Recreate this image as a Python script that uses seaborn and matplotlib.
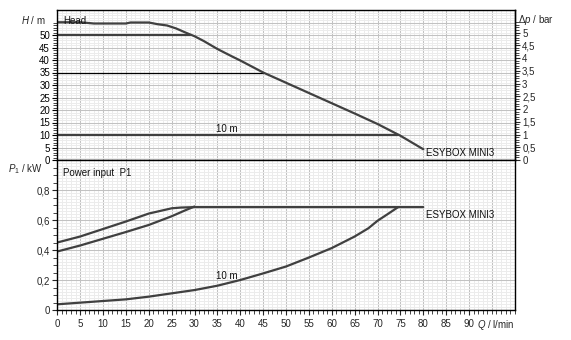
import numpy as np
import pandas as pd
import matplotlib
matplotlib.use("Agg")
import matplotlib.pyplot as plt
import matplotlib.transforms as mtransforms
from matplotlib.ticker import MultipleLocator, FixedLocator, FuncFormatter
import seaborn as sns

sns.set_style("white")
plt.rcParams['font.family'] = ['Liberation Sans', 'DejaVu Sans']
plt.rcParams['mathtext.fontset'] = 'custom'
plt.rcParams['mathtext.it'] = 'Liberation Sans:italic'
plt.rcParams['mathtext.rm'] = 'Liberation Sans'

# ---------------- data ----------------
# Head curve (max speed)
q_head = [0, 5, 8, 10, 15, 16, 20, 22, 24, 26, 28, 30, 32, 35, 38, 40, 45, 50, 55, 60, 65, 70, 75, 80]
h_head = [55.1, 55.1, 54.6, 54.6, 54.6, 55.0, 55.0, 54.3, 53.8, 52.6, 51.0, 49.5, 47.6, 44.4, 41.6, 39.8,
          35.0, 30.9, 26.8, 22.7, 18.6, 14.4, 9.7, 4.3]
# constant-pressure set lines (m)
q_set50 = [0, 29]
h_set50 = [50, 50]
q_set35 = [0, 45]
h_set35 = [35, 35]
q_set10 = [0, 74.5]
h_set10 = [10, 10]

# Power input P1 (kW)
q_pmax = [0, 5, 10, 15, 20, 25, 27, 30, 40, 50, 60, 70, 80]
p_pmax = [0.45, 0.49, 0.54, 0.59, 0.643, 0.678, 0.683, 0.686, 0.686, 0.686, 0.686, 0.686, 0.686]
q_p50 = [0, 5, 10, 15, 20, 25, 28, 30]
p_p50 = [0.39, 0.43, 0.475, 0.52, 0.567, 0.625, 0.665, 0.69]
q_p10 = [0, 5, 10, 15, 20, 25, 30, 35, 40, 45, 50, 55, 60, 65, 68, 70, 72, 74.5]
p_p10 = [0.038, 0.049, 0.06, 0.071, 0.089, 0.111, 0.133, 0.162, 0.2, 0.244, 0.29, 0.35, 0.413, 0.49,
         0.545, 0.595, 0.635, 0.686]

x_ticks = [0, 5, 10, 15, 20, 25, 30, 35, 40, 45, 50, 55, 60, 65, 70, 75, 80, 85, 90]
h_ticks = [0, 5, 10, 15, 20, 25, 30, 35, 40, 45, 50]
p_ticks = [0, 0.2, 0.4, 0.6, 0.8]
bar_ticks = [0, 0.5, 1, 1.5, 2, 2.5, 3, 3.5, 4, 4.5, 5]
M_PER_BAR = 10.197

# ---------------- figure ----------------
W, H = 571, 340
fig = plt.figure(figsize=(W / 100, H / 100), dpi=100)
fig.patch.set_facecolor("white")
x0, x1 = 57.3, 514.8
ax_top = fig.add_axes([x0 / W, (H - 160) / H, (x1 - x0) / W, 150 / H])
ax_bot = fig.add_axes([x0 / W, (H - 310) / H, (x1 - x0) / W, 150 / H])

curve_col = "#404040"
txt_col = "#111111"
major_grid = "#c2c2c2"
minor_grid = "#ececec"
fs = 7

for ax in (ax_top, ax_bot):
    ax.set_xlim(0, 100)
    ax.grid(False, which="both")
    for s in ax.spines.values():
        s.set_color("black")
        s.set_linewidth(1.0)
    ax.set_facecolor("white")
    ax.set_xlabel("")
    ax.set_ylabel("")
    for qv in range(0, 101):
        ax.axvline(qv, color=major_grid if qv % 5 == 0 else minor_grid,
                   lw=0.75 if qv % 5 == 0 else 0.7, zorder=0)

# ---- top panel ----
ax_top.set_ylim(0, 60)
ax_top.yaxis.set_major_locator(FixedLocator(h_ticks))
ax_top.yaxis.set_minor_locator(FixedLocator(list(range(0, 56))))
ax_top.yaxis.set_major_formatter(FuncFormatter(lambda v, p: f"{v:g}"))
ax_top.tick_params(axis="x", which="both", bottom=False, labelbottom=False)
ax_top.tick_params(axis="y", which="major", direction="out", length=3.5, width=0.8, pad=1.8,
                   labelsize=fs, left=True, colors="black")
ax_top.tick_params(axis="y", which="minor", direction="out", length=3.0, width=0.6, left=True)
for hv in range(0, 61):
    ax_top.axhline(hv, color=major_grid if hv % 5 == 0 else minor_grid,
                   lw=0.75 if hv % 5 == 0 else 0.7, zorder=0)

sns.lineplot(x=q_set35, y=h_set35, ax=ax_top, color="black", lw=0.9, estimator=None, sort=False)
sns.lineplot(x=q_set50, y=h_set50, ax=ax_top, color=curve_col, lw=1.6, estimator=None, sort=False)
sns.lineplot(x=q_set10, y=h_set10, ax=ax_top, color=curve_col, lw=1.6, estimator=None, sort=False)
sns.lineplot(x=q_head, y=h_head, ax=ax_top, color=curve_col, lw=1.6, estimator=None, sort=False)

ax_top.text(1.2, 55.6, "Head", fontsize=fs, va="center", ha="left", color=txt_col)
ax_top.text(37.1, 12.6, "10 m", fontsize=fs, va="center", ha="center", color=txt_col)
ax_top.text(80.6, 2.8, "ESYBOX MINI3", fontsize=fs, va="center", ha="left", color=txt_col)

trans_t = mtransforms.blended_transform_factory(ax_top.transAxes, ax_top.transData)
ax_top.text(-0.026, 56, r"$H$ / m", transform=trans_t, fontsize=fs, ha="right", va="center")
ax_top.text(1.008, 56, r"$\Delta p$ / bar", transform=trans_t, fontsize=fs, ha="left", va="center")

sec = ax_top.secondary_yaxis("right", functions=(lambda h: h / M_PER_BAR, lambda b: b * M_PER_BAR))
sec.yaxis.set_major_locator(FixedLocator(bar_ticks))
sec.yaxis.set_minor_locator(FixedLocator([i / 10 for i in range(0, 55)]))
sec.yaxis.set_major_formatter(FuncFormatter(lambda v, p: f"{v:g}".replace(".", ",")))
sec.tick_params(axis="y", which="major", direction="out", length=3.5, width=0.8, pad=1.8, labelsize=fs)
sec.tick_params(axis="y", which="minor", direction="out", length=3.0, width=0.6)
sec.spines["right"].set_linewidth(1.0)

# ---- bottom panel ----
ax_bot.set_ylim(0, 1.0)
ax_bot.yaxis.set_major_locator(FixedLocator(p_ticks))
ax_bot.yaxis.set_minor_locator(FixedLocator([i * 0.05 for i in range(0, 20)]))
ax_bot.yaxis.set_major_formatter(FuncFormatter(lambda v, p: f"{v:g}".replace(".", ",")))
ax_bot.xaxis.set_major_locator(FixedLocator(x_ticks))
ax_bot.xaxis.set_major_formatter(FuncFormatter(lambda v, p: f"{v:g}"))
ax_bot.xaxis.set_minor_locator(FixedLocator(list(range(0, 101))))
ax_bot.tick_params(axis="both", which="major", direction="out", length=3.5, width=0.8, pad=3,
                   labelsize=fs, left=True, bottom=True)
ax_bot.tick_params(axis="y", which="major", pad=1.8)
ax_bot.tick_params(axis="both", which="minor", direction="out", length=3.0, width=0.6,
                   left=True, bottom=True)
for i in range(0, 51):
    pv = i * 0.02
    ax_bot.axhline(pv, color=major_grid if i % 10 == 0 else minor_grid,
                   lw=0.75 if i % 10 == 0 else 0.7, zorder=0)

sns.lineplot(x=q_pmax, y=p_pmax, ax=ax_bot, color=curve_col, lw=1.6, estimator=None, sort=False)
sns.lineplot(x=q_p50, y=p_p50, ax=ax_bot, color=curve_col, lw=1.6, estimator=None, sort=False)
sns.lineplot(x=q_p10, y=p_p10, ax=ax_bot, color=curve_col, lw=1.6, estimator=None, sort=False)

ax_bot.text(1.2, 0.912, "Power input  P1", fontsize=fs, va="center", ha="left", color=txt_col)
ax_bot.text(37.1, 0.228, "10 m", fontsize=fs, va="center", ha="center", color=txt_col)
ax_bot.text(80.6, 0.633, "ESYBOX MINI3", fontsize=fs, va="center", ha="left", color=txt_col)

trans_b = mtransforms.blended_transform_factory(ax_bot.transAxes, ax_bot.transData)
ax_bot.text(-0.031, 0.94, r"$P_1$ / kW", transform=trans_b, fontsize=fs, ha="right", va="center")
ax_bot.text(1.0, -0.1, r"$Q$ / l/min", transform=ax_bot.transAxes, fontsize=fs, ha="right", va="center")

fig.savefig("out.png", dpi=100, facecolor="white")
